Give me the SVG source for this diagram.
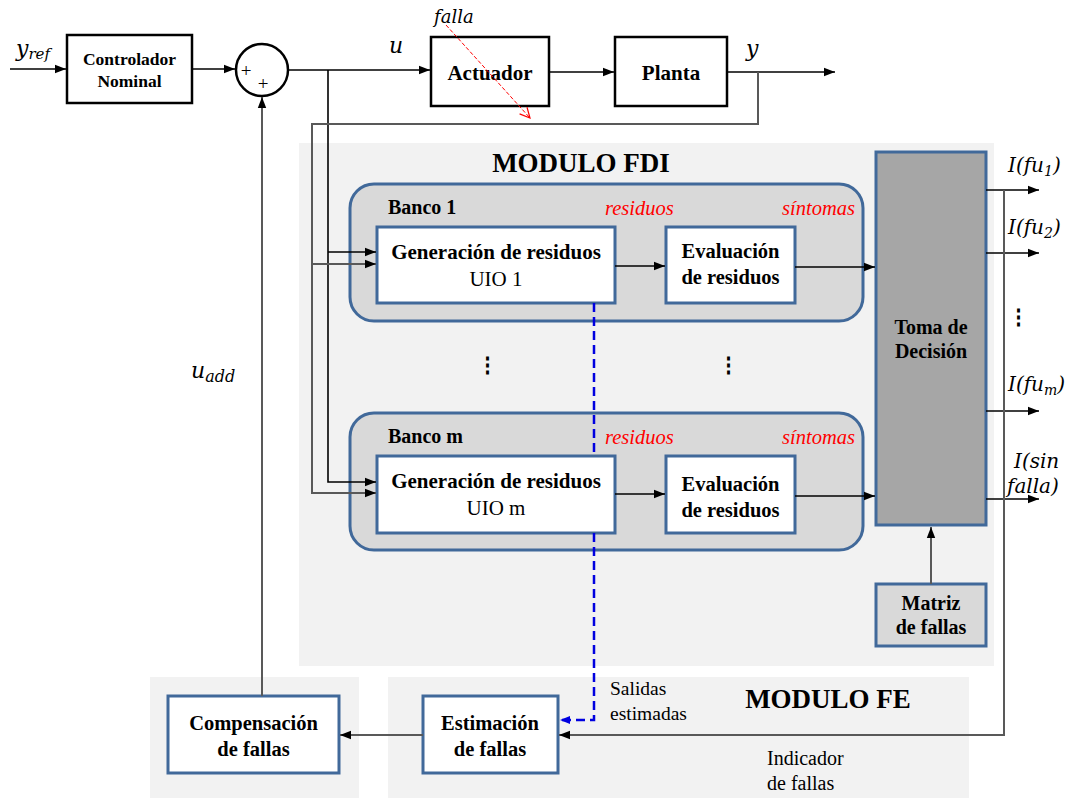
<svg xmlns="http://www.w3.org/2000/svg" width="1080" height="798" viewBox="0 0 1080 798">
  <style>
    .bg { fill: #f2f2f2; }
    .blk { fill: #ffffff; stroke: #000000; stroke-width: 2.5; }
    .box { fill: #ffffff; stroke: #41699a; stroke-width: 3; }
    .bank { fill: #d9d9d9; stroke: #41699a; stroke-width: 3; }
    .b { font-family: "Liberation Serif", "Times New Roman", serif; font-weight: bold; fill: #000; }
    .r { font-family: "Liberation Serif", "Times New Roman", serif; fill: #000; }
    .red { font-family: "Liberation Serif", "Times New Roman", serif; font-style: italic; fill: #ff0000; font-size: 20.5px; }
    .m { font-family: "DejaVu Serif", "Liberation Serif", serif; font-style: italic; fill: #000; }
    .mid { text-anchor: middle; }
    .ln { fill: none; stroke: #000; stroke-width: 1.6; }
    .gl { fill: none; stroke: #595959; stroke-width: 2; }
  </style>
  <defs>
    <marker id="ah" markerUnits="userSpaceOnUse" markerWidth="12" markerHeight="10" refX="11" refY="5" orient="auto">
      <path d="M0,0.8 L11,5 L0,9.2 z" fill="#000"/>
    </marker>
    <marker id="ahb" markerUnits="userSpaceOnUse" markerWidth="12" markerHeight="10" refX="10" refY="5" orient="auto">
      <path d="M0,1 L10,5 L0,9 z" fill="#0000e0"/>
    </marker>
    <marker id="ahr" markerUnits="userSpaceOnUse" markerWidth="14" markerHeight="12" refX="11" refY="6" orient="auto">
      <path d="M1,1 L11,6 L1,11" fill="none" stroke="#ff0000" stroke-width="1.2"/>
    </marker>
  </defs>

  <!-- module backgrounds -->
  <g id="modulo-fdi">
    <rect class="bg" x="299" y="143" width="695" height="523"/>
    <text class="b mid" x="581" y="172" font-size="27">MODULO FDI</text>
  </g>
  <g id="modulo-fe">
    <rect class="bg" x="388" y="677" width="581" height="121"/>
    <rect class="bg" x="150" y="677" width="209" height="121"/>
    <text class="b mid" x="828" y="708" font-size="27">MODULO FE</text>
  </g>

  <!-- residual banks -->
  <g id="banco-1">
    <rect class="bank" x="350" y="184" width="513" height="137" rx="24"/>
    <text class="b" x="388" y="214" font-size="20">Banco 1</text>
    <text class="red" x="605" y="215">residuos</text>
    <text class="red" x="855" y="215" text-anchor="end">síntomas</text>
  </g>
  <g id="banco-m">
    <rect class="bank" x="350" y="413" width="513" height="137" rx="24"/>
    <text class="b" x="388" y="443" font-size="20">Banco m</text>
    <text class="red" x="605" y="444">residuos</text>
    <text class="red" x="855" y="444" text-anchor="end">síntomas</text>
  </g>

  <!-- top loop -->
  <g id="controlador">
    <rect class="blk" x="67" y="35" width="125" height="68"/>
    <text class="b mid" x="129.5" y="65" font-size="17.5">Controlador</text>
    <text class="b mid" x="129.5" y="87" font-size="17.5">Nominal</text>
  </g>
  <g id="sumador">
    <circle cx="262" cy="70" r="26" fill="#fff" stroke="#000" stroke-width="2.5"/>
    <text class="r mid" x="246" y="77" font-size="19">+</text>
    <text class="r mid" x="263" y="90" font-size="19">+</text>
  </g>
  <g id="actuador">
    <rect class="blk" x="431" y="37" width="118" height="69"/>
    <text class="b mid" x="490" y="80" font-size="21">Actuador</text>
  </g>
  <g id="planta">
    <rect class="blk" x="615" y="37" width="112" height="69"/>
    <text class="b mid" x="671" y="80" font-size="21">Planta</text>
  </g>

  <!-- bank 1 blocks -->
  <g id="generacion-1">
    <rect class="box" x="377" y="227" width="238" height="76"/>
    <text class="b mid" x="496" y="259" font-size="21">Generación de residuos</text>
    <text class="r mid" x="496" y="286" font-size="21">UIO 1</text>
  </g>
  <g id="evaluacion-1">
    <rect class="box" x="666" y="227" width="129" height="76"/>
    <text class="b mid" x="730.5" y="258" font-size="20.5">Evaluación</text>
    <text class="b mid" x="730.5" y="284" font-size="20.5">de residuos</text>
  </g>
  <!-- bank m blocks -->
  <g id="generacion-m">
    <rect class="box" x="377" y="456" width="238" height="77"/>
    <text class="b mid" x="496" y="488" font-size="21">Generación de residuos</text>
    <text class="r mid" x="496" y="515" font-size="21">UIO m</text>
  </g>
  <g id="evaluacion-m">
    <rect class="box" x="666" y="456" width="129" height="77"/>
    <text class="b mid" x="730.5" y="491" font-size="20.5">Evaluación</text>
    <text class="b mid" x="730.5" y="517" font-size="20.5">de residuos</text>
  </g>

  <g id="puntos">
    <text class="b mid" x="487" y="372" font-size="21">⋮</text>
    <text class="b mid" x="728" y="372" font-size="21">⋮</text>
    <text class="b mid" x="1018" y="324" font-size="21">⋮</text>
  </g>

  <g id="toma-decision">
    <rect x="876" y="152" width="110" height="373" fill="#a6a6a6" stroke="#41699a" stroke-width="3"/>
    <text class="b mid" x="931" y="334" font-size="20">Toma de</text>
    <text class="b mid" x="931" y="358" font-size="20">Decisión</text>
  </g>
  <g id="matriz-fallas">
    <rect x="876" y="584" width="110" height="62" fill="#d9d9d9" stroke="#41699a" stroke-width="3"/>
    <text class="b mid" x="931" y="610" font-size="20">Matriz</text>
    <text class="b mid" x="931" y="634" font-size="20">de fallas</text>
  </g>

  <g id="estimacion">
    <rect class="box" x="423" y="696" width="135" height="77"/>
    <text class="b mid" x="490" y="730" font-size="20.5">Estimación</text>
    <text class="b mid" x="490" y="756" font-size="20.5">de fallas</text>
  </g>
  <g id="compensacion">
    <rect class="box" x="168" y="696" width="171" height="77"/>
    <text class="b mid" x="253.5" y="730" font-size="20.5">Compensación</text>
    <text class="b mid" x="253.5" y="756" font-size="20.5">de fallas</text>
  </g>

  <!-- plain labels -->
  <g id="etiquetas">
    <text class="r" x="610" y="695" font-size="19.5">Salidas</text>
    <text class="r" x="610" y="720" font-size="19.5">estimadas</text>
    <text class="r" x="767" y="765" font-size="20">Indicador</text>
    <text class="r" x="767" y="790" font-size="20">de fallas</text>
  </g>

  <!-- signal symbols -->
  <g id="simbolos">
    <text class="m" x="16" y="56" font-size="22">y<tspan font-size="15" dy="3">ref</tspan></text>
    <text class="m" x="389" y="53" font-size="22">u</text>
    <text class="m" x="746" y="56" font-size="22">y</text>
    <text class="m" x="434" y="23" font-size="18">falla</text>
    <text class="m" x="191" y="378" font-size="22">u<tspan font-size="16" dy="4">add</tspan></text>
    <text class="m" x="1008" y="172" font-size="20">I(fu<tspan font-size="14" dy="4">1</tspan><tspan dy="-4">)</tspan></text>
    <text class="m" x="1008" y="234" font-size="20">I(fu<tspan font-size="14" dy="4">2</tspan><tspan dy="-4">)</tspan></text>
    <text class="m" x="1008" y="391" font-size="20">I(fu<tspan font-size="14" dy="4">m</tspan><tspan dy="-4">)</tspan></text>
    <text class="m" x="1014" y="468" font-size="20">I(sin</text>
    <text class="m" x="1007" y="493" font-size="20">falla)</text>
  </g>

  <!-- connectors -->
  <g id="conectores">
    <path class="ln" d="M10,69 H66" marker-end="url(#ah)"/>
    <path class="ln" d="M192,69 H235" marker-end="url(#ah)"/>
    <path class="ln" d="M288,70 H430" marker-end="url(#ah)"/>
    <path class="ln" d="M549,72 H614" marker-end="url(#ah)"/>
    <path class="ln" d="M727,72 H835" marker-end="url(#ah)"/>
    <!-- u to the banks -->
    <path class="ln" d="M328,70 V482 H376" marker-end="url(#ah)"/>
    <path class="ln" d="M328,252 H376" marker-end="url(#ah)"/>
    <!-- y to the banks -->
    <path class="gl" d="M758,72 V124 H312 V493 H376" stroke-width="1.6" marker-end="url(#ah)"/>
    <path class="gl" d="M312,264 H376" stroke-width="1.6" marker-end="url(#ah)"/>
    <!-- residuals and symptoms -->
    <path class="ln" d="M615,266 H665" marker-end="url(#ah)"/>
    <path class="ln" d="M795,267 H875" marker-end="url(#ah)"/>
    <path class="ln" d="M615,494 H665" marker-end="url(#ah)"/>
    <path class="ln" d="M795,496 H875" marker-end="url(#ah)"/>
    <!-- decision outputs -->
    <path class="ln" d="M986,190 H1039" marker-end="url(#ah)"/>
    <path class="ln" d="M986,253 H1039" marker-end="url(#ah)"/>
    <path class="ln" d="M986,411 H1039" marker-end="url(#ah)"/>
    <path class="ln" d="M986,499 H1039" marker-end="url(#ah)"/>
    <!-- fault matrix -->
    <path class="gl" d="M931,584 V527" marker-end="url(#ah)"/>
    <!-- fault indicator to estimation -->
    <path class="gl" d="M1004,190 V735 H559" marker-end="url(#ah)"/>
    <!-- estimated outputs -->
    <path d="M594,303 V456 M594,533 V720 H560" fill="none" stroke="#0000e0" stroke-width="2.5" stroke-dasharray="9 5" marker-end="url(#ahb)"/>
    <!-- estimation to compensation -->
    <path class="gl" d="M423,735 H340" marker-end="url(#ah)"/>
    <!-- additive control back to the sum -->
    <path class="gl" d="M262,696 V97" marker-end="url(#ah)"/>
    <!-- actuator fault -->
    <path d="M446,25 L530,118" fill="none" stroke="#ff0000" stroke-width="1" stroke-dasharray="4 2" marker-end="url(#ahr)"/>
  </g>
</svg>
